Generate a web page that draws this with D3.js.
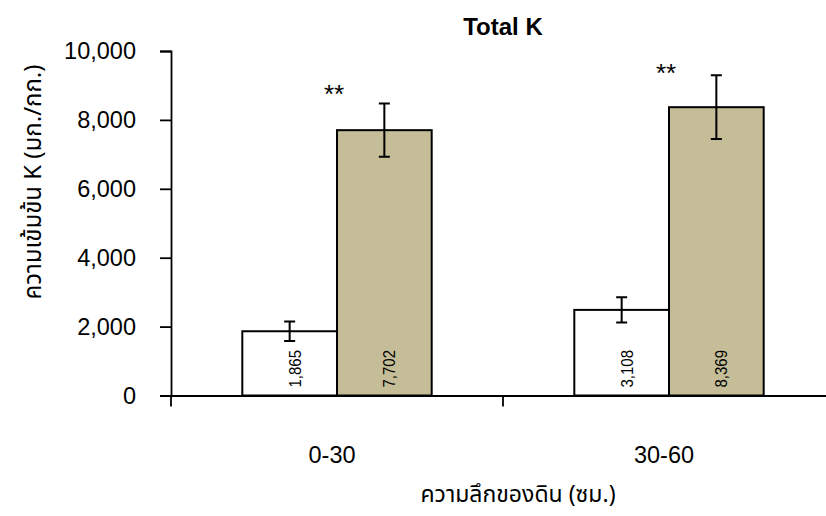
<!DOCTYPE html>
<html>
<head>
<meta charset="utf-8">
<script src="https://cdn.jsdelivr.net/npm/d3@7"></script>
<style>
  body { margin: 0; background: #fff; }
  #graphic text { font-family: "Liberation Sans", Arial, sans-serif; fill: #000; }
  #graphic text.thai { font-family: "Noto Sans Thai", Loma, Garuda, Tahoma, "Liberation Sans", sans-serif; font-weight: normal; }
</style>
</head>
<body>
<div id="graphic"><div class="chart"></div></div>
<script>
// Chart values
var categories   = ["0-30", "30-60"];
var seriesNames  = ["white", "tan"];
var whiteValues  = [1865, 2485];
var tanValues    = [7702, 8369];
var whiteErrors  = [280, 367];
var tanErrors    = [775, 925];
var whiteLabels  = ["1,865", "3,108"];
var tanLabels    = ["7,702", "8,369"];
var starLabels   = ["**", "**"];
var starLevels   = [8500, 9100];
var yTicks       = [0, 2000, 4000, 6000, 8000, 10000];

(function() {
  // Dimensions
  var
  container = document.querySelector("#graphic"),
  chart     = container.querySelector(".chart"),
  width     = 826,
  height    = 516,
  plot      = { left: 171, right: 835, top: 51, bottom: 395.5 }
  ;

  var colors = { white: "#ffffff", tan: "#c4bd97" };

  // Rows: one per category, with both series inside
  var rows = categories.map(function(c, i) {
    return {
      category: c,
      bars: [
        { series: "white", value: whiteValues[i], error: whiteErrors[i], label: whiteLabels[i] },
        { series: "tan",   value: tanValues[i],   error: tanErrors[i],   label: tanLabels[i] }
      ],
      star: starLabels[i],
      starLevel: starLevels[i]
    };
  });

  var x = d3.scaleBand()
    .domain(categories)
    .range([plot.left, plot.right])
    .padding(0);

  var inner = d3.scaleBand()
    .domain(seriesNames)
    .range([0, x.bandwidth()])
    .paddingInner(0)
    .paddingOuter(0.753);

  var y = d3.scaleLinear()
    .domain([0, 10000])
    .range([plot.bottom, plot.top]);

  chart.innerHTML = "";

  var svg = d3.select(chart).append("svg")
    .attr("width", width)
    .attr("height", height);

  // Title
  svg.append("text")
    .attr("x", (plot.left + plot.right) / 2)
    .attr("y", 35)
    .attr("text-anchor", "middle")
    .style("font-size", "24px")
    .style("font-weight", "bold")
    .text("Total K");

  // Bars
  var groups = svg.append("g").attr("class", "bars")
    .selectAll("g.bar-group")
      .data(rows)
    .enter().append("g")
      .attr("class", "bar-group")
      .attr("transform", function(d) { return "translate(" + x(d.category) + ",0)"; });

  var bars = groups.selectAll("g.bar")
      .data(function(d) { return d.bars; })
    .enter().append("g")
      .attr("class", "bar");

  bars.append("rect")
    .attr("x", function(d) { return inner(d.series); })
    .attr("y", function(d) { return y(d.value); })
    .attr("width", inner.bandwidth())
    .attr("height", function(d) { return y(0) - y(d.value); })
    .attr("fill", function(d) { return colors[d.series]; })
    .attr("stroke", "#000")
    .attr("stroke-width", 2);

  // Error bars
  var cap = 5.5;
  bars.append("path")
    .attr("fill", "none")
    .attr("stroke", "#000")
    .attr("stroke-width", 2)
    .attr("d", function(d) {
      var cx = inner(d.series) + inner.bandwidth() / 2;
      var top = y(d.value + d.error), bot = y(d.value - d.error);
      return "M" + cx + "," + top + "V" + bot +
        "M" + (cx - cap) + "," + top + "H" + (cx + cap) +
        "M" + (cx - cap) + "," + bot + "H" + (cx + cap);
    });

  // Rotated value labels at the base of each bar
  bars.append("text")
    .attr("transform", function(d) {
      var cx = inner(d.series) + inner.bandwidth() / 2 + 11;
      return "translate(" + cx + "," + (y(0) - 8) + ") rotate(-90) scale(1,1.12)";
    })
    .style("font-size", "15px")
    .text(function(d) { return d.label; });

  // Significance stars
  groups.append("text")
    .attr("x", x.bandwidth() / 2 - 3)
    .attr("y", function(d) { return y(d.starLevel); })
    .attr("text-anchor", "middle")
    .style("font-size", "26px")
    .text(function(d) { return d.star; });

  // Y axis
  var yAxis = svg.append("g")
    .attr("class", "axis")
    .attr("transform", "translate(" + plot.left + ",0)")
    .call(d3.axisLeft(y)
      .tickValues(yTicks)
      .tickSize(11)
      .tickPadding(24)
      .tickFormat(d3.format(",")));

  yAxis.selectAll("text").style("font-size", "23.5px");

  // X axis: line, boundary ticks, category labels
  var xAxis = svg.append("g")
    .attr("class", "axis")
    .attr("transform", "translate(0," + y(0) + ")")
    .call(d3.axisBottom(x).tickSize(0).tickPadding(51));

  xAxis.selectAll("text")
    .attr("dx", -5)
    .style("font-size", "23.5px");

  var bounds = categories.map(function(c) { return x(c); }).concat([plot.right]);
  xAxis.selectAll("line.bound")
      .data(bounds)
    .enter().append("line")
      .attr("class", "bound")
      .attr("x1", function(d) { return d; })
      .attr("x2", function(d) { return d; })
      .attr("y1", 0)
      .attr("y2", 11);

  svg.selectAll(".axis path, .axis line")
    .attr("stroke", "#000")
    .attr("stroke-width", 1.8);

  // Axis titles
  svg.append("text")
    .attr("class", "thai")
    .attr("transform", "translate(41," + 182 + ") rotate(-90)")
    .attr("text-anchor", "middle")
    .style("font-size", "24px")
    .text("ความเข้มข้น K (มก./กก.)");

  svg.append("text")
    .attr("class", "thai")
    .attr("x", 518)
    .attr("y", 502)
    .attr("text-anchor", "middle")
    .style("font-size", "23px")
    .text("ความลึกของดิน (ซม.)");
})();
</script>
</body>
</html>
